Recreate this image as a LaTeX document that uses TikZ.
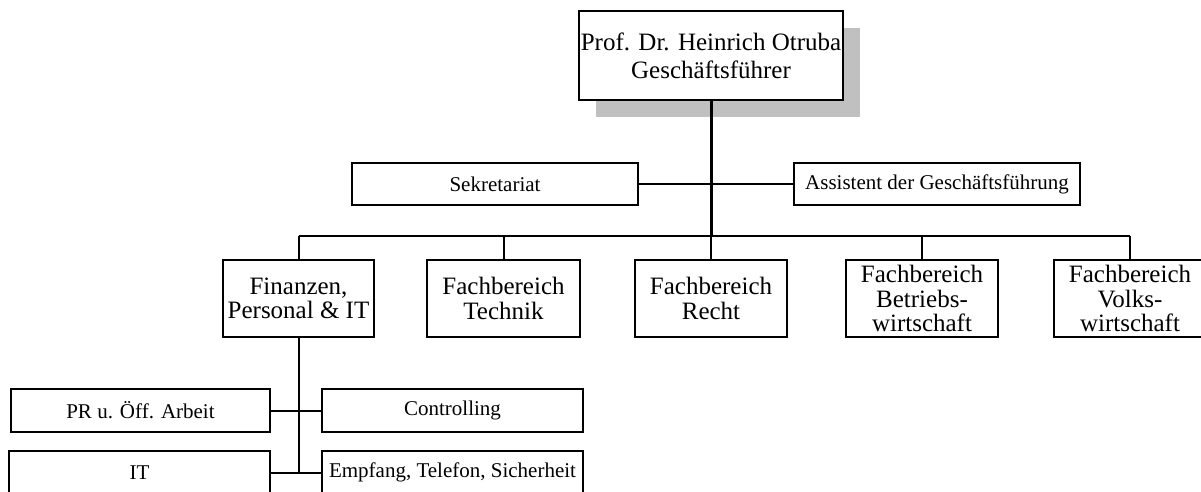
\documentclass[tikz,border=0pt]{standalone}
\usepackage{fontspec}
\setmainfont{Liberation Serif}
\usetikzlibrary{backgrounds}
\definecolor{shadowgray}{RGB}{192,192,192}
\tikzset{
  orgbox/.style={draw=black, line width=2pt, fill=white, inner sep=0pt, outer sep=0pt, align=center},
  bigtext/.style={font=\fontsize{25}{24.5}\selectfont},
  smalltext/.style={font=\fontsize{21}{24}\selectfont},
  conn/.style={line width=2pt},
  trunk/.style={line width=3pt},
}
\begin{document}
\begin{tikzpicture}[x=1pt,y=-1pt]
\useasboundingbox (0,0) rectangle (1201,491);
% top box
\node[orgbox, font=\fontsize{25}{28}\selectfont, minimum width=264pt, minimum height=89pt] (gf) at (711,55.5) {Prof. Dr. Heinrich Otruba\\Geschäftsführer};
\begin{scope}[on background layer]
  \fill[shadowgray] ([shift={(17,17)}]gf.south west) rectangle ([shift={(17,17)}]gf.north east);
\end{scope}
% staff
\node[orgbox, smalltext, minimum width=286pt, minimum height=42pt] (sek) at (495,184) {Sekretariat};
\node[orgbox, smalltext, minimum width=286pt, minimum height=42pt] (ass) at (937,184) {Assistent der Geschäftsführung};
% departments
\node[orgbox, bigtext, minimum width=151pt, minimum height=77pt] (fin) at (298.5,298.5) {Finanzen,\\Personal \& IT};
\node[orgbox, bigtext, minimum width=153pt, minimum height=77pt] (tech) at (503.5,298.5) {Fachbereich\\Technik};
\node[orgbox, bigtext, minimum width=152pt, minimum height=77pt] (recht) at (711,298.5) {Fachbereich\\Recht};
\node[orgbox, bigtext, minimum width=152pt, minimum height=77pt] (betr) at (922,298.5) {Fachbereich\\Betriebs-\\wirtschaft};
\node[orgbox, bigtext, minimum width=152pt, minimum height=77pt] (volks) at (1130,298.5) {Fachbereich\\Volks-\\wirtschaft};
% sub units
\node[orgbox, smalltext, minimum width=259pt, minimum height=43pt] (pr) at (140.5,410.5) {PR u. Öff. Arbeit};
\node[orgbox, smalltext, minimum width=261pt, minimum height=43pt] (ctrl) at (452.5,410.5) {Controlling};
\node[orgbox, smalltext, minimum width=261pt, minimum height=43pt] (it) at (139.5,472.5) {IT};
\node[orgbox, smalltext, minimum width=261pt, minimum height=43pt] (emp) at (452.5,472.5) {Empfang, Telefon, Sicherheit};
% connectors
\coordinate (busM) at (711,236);
\coordinate (busL) at (298.5,236);
\coordinate (busR) at (1130,236);
\draw[conn] (sek.east) -- (ass.west);
\draw[conn] (busL) -- (busR);
\draw[conn] (busL) -- (fin.north);
\draw[conn] (tech.north |- busM) -- (tech.north);
\draw[conn] (busM) -- (recht.north);
\draw[conn] (betr.north |- busM) -- (betr.north);
\draw[conn] (busR) -- (volks.north);
\draw[trunk] (gf.south) -- (busM);
\draw[conn] (fin.south) -- (fin.south |- it.east);
\draw[conn] (pr.east) -- (ctrl.west);
\draw[conn] (it.east) -- (emp.west);
\end{tikzpicture}
\end{document}
